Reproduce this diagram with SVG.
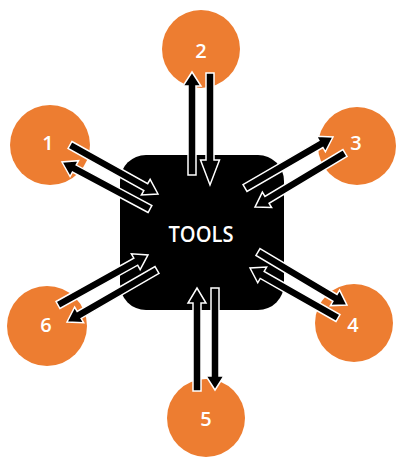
<svg xmlns="http://www.w3.org/2000/svg" width="405" height="467" viewBox="0 0 405 467">
<style>
.circ{fill:#ED7D31}
.num{fill:#fff;font-family:"Open Sans","DejaVu Sans",sans-serif;font-size:20px;font-weight:600;text-anchor:middle}
.arr{fill:#000;stroke:#fff;stroke-width:1.5;stroke-linejoin:miter}
.lbl{fill:#fff;font-family:"Open Sans","DejaVu Sans",sans-serif;font-size:22px;font-weight:600;text-anchor:middle}
</style>
<rect width="405" height="467" fill="#fff"/>
<g id="tools">
<rect x="120" y="155" width="164" height="155" rx="26" ry="26" fill="#000"/>
<text class="lbl" x="201" y="242" textLength="65" lengthAdjust="spacingAndGlyphs">TOOLS</text>
</g>
<g id="node1"><circle class="circ" cx="50" cy="145" r="40"/><text class="num" x="48" y="150">1</text></g>
<g id="node2"><circle class="circ" cx="201" cy="49" r="39"/><text class="num" x="201" y="58">2</text></g>
<g id="node3"><circle class="circ" cx="357" cy="146" r="39"/><text class="num" x="356" y="150">3</text></g>
<g id="node4"><circle class="circ" cx="354" cy="323" r="39"/><text class="num" x="353" y="332">4</text></g>
<g id="node5"><circle class="circ" cx="206" cy="418" r="39"/><text class="num" x="206" y="426">5</text></g>
<g id="node6"><circle class="circ" cx="47" cy="326" r="40"/><text class="num" x="46" y="332">6</text></g>
<g id="connectors">
<path class="arr" transform="translate(70,145) rotate(29.1)" d="M0,-4 L86.7,-4 L86.7,-9 L100.7,0 L86.7,9 L86.7,4 L0,4 Z"/>
<path class="arr" transform="translate(150,209) rotate(208.1)" d="M0,-4 L85.8,-4 L85.8,-9 L99.8,0 L85.8,9 L85.8,4 L0,4 Z"/>
<path class="arr" transform="translate(192,175) rotate(-90)" d="M0,-4 L89,-4 L89,-9 L103,0 L89,9 L89,4 L0,4 Z"/>
<path class="arr" transform="translate(210,73) rotate(90)" d="M0,-4 L87,-4 L87,-9.5 L112,0 L87,9.5 L87,4 L0,4 Z"/>
<path class="arr" transform="translate(245,188) rotate(-30.1)" d="M0,-4 L87.7,-4 L87.7,-9 L101.7,0 L87.7,9 L87.7,4 L0,4 Z"/>
<path class="arr" transform="translate(345,153) rotate(149)" d="M0,-4 L91,-4 L91,-9 L105,0 L91,9 L91,4 L0,4 Z"/>
<path class="arr" transform="translate(258,252) rotate(30.8)" d="M0,-4 L89.6,-4 L89.6,-9 L103.6,0 L89.6,9 L89.6,4 L0,4 Z"/>
<path class="arr" transform="translate(338,318) rotate(209.6)" d="M0,-4 L87.2,-4 L87.2,-9 L101.2,0 L87.2,9 L87.2,4 L0,4 Z"/>
<path class="arr" transform="translate(197,391) rotate(-90)" d="M0,-4 L88,-4 L88,-9 L103,0 L88,9 L88,4 L0,4 Z"/>
<path class="arr" transform="translate(215,288) rotate(90)" d="M0,-4 L88,-4 L88,-9 L102,0 L88,9 L88,4 L0,4 Z"/>
<path class="arr" transform="translate(157,270) rotate(150)" d="M0,-4 L89.9,-4 L89.9,-9 L103.9,0 L89.9,9 L89.9,4 L0,4 Z"/>
<path class="arr" transform="translate(58,305) rotate(-29.1)" d="M0,-4 L89,-4 L89,-9 L103,0 L89,9 L89,4 L0,4 Z"/>
</g>
</svg>
